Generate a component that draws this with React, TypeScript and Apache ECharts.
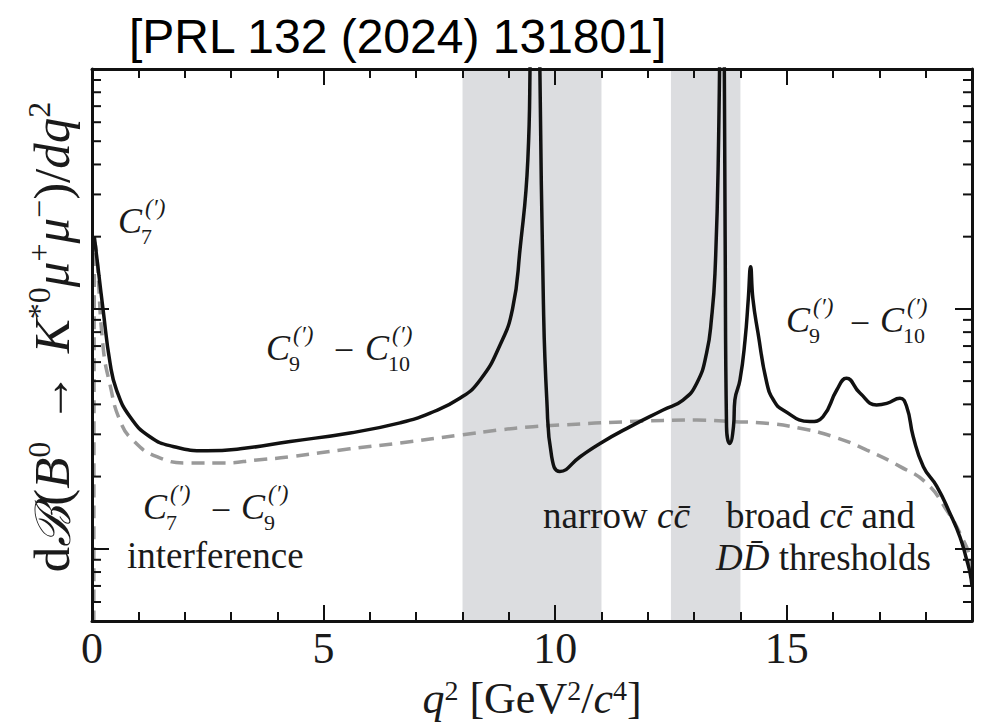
import React, { useEffect, useRef } from 'react';
import * as echarts from 'echarts';

// ---- data ----
const q2Full = [0.05, 0.15, 0.24, 0.39, 0.53, 0.82, 1.25, 1.75, 2.48, 3.2, 4.28, 5.57, 6.65, 7.3, 7.95, 8.38, 8.81, 9.08, 9.24, 9.41, 9.46, 9.56, 9.67, 9.745, 9.82, 9.925, 10.1, 10.54, 10.97, 11.62, 12.33, 12.76, 13.06, 13.27, 13.38, 13.45, 13.52, 13.57, 13.6, 13.64, 13.67, 13.7, 13.77, 13.85, 13.88, 13.99, 14.1, 14.17, 14.22, 14.27, 14.38, 14.57, 14.72, 14.92, 15.5, 15.78, 16.08, 16.29, 16.58, 16.94, 17.16, 17.445, 17.59, 17.73, 17.95, 18.24, 18.52, 18.74, 18.885, 18.96, 19.0];
const rateFull = [2.0, 1.38, 0.99, 0.595, 0.459, 0.355, 0.293, 0.267, 0.256, 0.261, 0.28, 0.304, 0.335, 0.368, 0.425, 0.505, 0.707, 1.0, 1.76, 4.18, 11, 300, 10, 1.09, 0.417, 0.242, 0.21, 0.242, 0.275, 0.323, 0.379, 0.417, 0.491, 0.655, 0.93, 1.4, 4, 30, 300, 30, 2, 0.323, 0.275, 0.323, 0.417, 0.505, 0.742, 1.1, 1.5, 1.1, 0.793, 0.491, 0.415, 0.379, 0.339, 0.355, 0.459, 0.514, 0.446, 0.398, 0.404, 0.424, 0.391, 0.294, 0.22, 0.182, 0.141, 0.112, 0.09, 0.079, 0.07];

const q2Ref = [0.04, 0.06, 0.1, 0.24, 0.39, 0.6, 0.88, 1.4, 2.12, 2.83, 3.56, 4.28, 5.57, 6.65, 7.95, 8.81, 9.52, 10.1, 11.62, 13.06, 13.84, 14.49, 15.29, 16.0, 16.73, 17.45, 18.02, 18.45, 18.74, 18.96, 19.0];
const rateRef = [0.04, 1.9, 1.71, 0.694, 0.482, 0.344, 0.284, 0.242, 0.228, 0.228, 0.2345, 0.242, 0.261, 0.276, 0.298, 0.313, 0.323, 0.328, 0.339, 0.344, 0.339, 0.3345, 0.318, 0.2935, 0.258, 0.22, 0.1875, 0.145, 0.116, 0.09, 0.074];

const charmBands = [[8, 11], [12.5, 14]];
const xTickLabels = ['0', '5', '10', '15'];
const yMinorTicks = [0.06, 0.07, 0.08, 0.09, 0.2, 0.3, 0.4, 0.5, 0.6, 0.7, 0.8, 0.9, 2, 3, 4, 5, 6, 7, 8, 9];

const X_MIN = 0;
const X_MAX = 19;
const Y_MIN = 0.05;
const Y_MAX = 10;

const SERIF = "'Liberation Serif', 'Times New Roman', 'DejaVu Serif', serif";
const TXT = '#1a1a1a';

function txt(x: number, y: number, text: string, size: number, extra: any = {}) {
  return {
    type: 'text', x, y, z: 100, silent: true,
    style: { text, fontFamily: SERIF, fontSize: size, fill: TXT, verticalAlign: 'middle', align: 'left', ...extra },
  };
}

function cTerm(x: number, yc: number, sub: string) {
  return [
    txt(x, yc, 'C', 36, { fontStyle: 'italic' }),
    txt(x + 27, yc - 14, '(\u2032)', 23, { fontStyle: 'italic' }),
    txt(x + 23, yc + 15, sub, 22),
  ];
}

const richBase = (size: number, supSize: number, lh: number) => ({
  r: { fontFamily: SERIF, fontSize: size, fill: TXT, verticalAlign: 'bottom', lineHeight: lh },
  a: { fontFamily: SERIF, fontSize: size, fill: TXT, verticalAlign: 'bottom', lineHeight: lh, padding: [0, 6, 0, 6] },
  i: { fontFamily: SERIF, fontSize: size, fontStyle: 'italic', fill: TXT, verticalAlign: 'bottom', lineHeight: lh },
  s: { fontFamily: "'DejaVu Serif', " + SERIF, fontSize: size - 2, fontStyle: 'italic', fill: TXT, verticalAlign: 'bottom', lineHeight: lh },
  sup: { fontFamily: SERIF, fontSize: supSize, fill: TXT, verticalAlign: 'top', lineHeight: 20 },
});

const Y_LABEL = '{r|d}{s|\u212C}{r|(}{i|B}{sup|0}{a| \u2192 }{i|K}{sup|*0}{i|\u03BC}{sup|+}{i|\u03BC}{sup|\u2212}{r|)/}{i|dq}{sup|2}';
const X_LABEL = '{i|q}{sup|2}{r| [GeV}{sup|2}{r|/}{i|c}{sup|4}{r|]}';

function buildOption() {
  const full = q2Full.map((q, k) => [q, rateFull[k]]);
  const ref = q2Ref.map((q, k) => [q, rateRef[k]]);

  const axisLine = { show: true, onZero: false, lineStyle: { color: '#111', width: 3 } };
  const xBase = (position: string, interval: number, len: number, main: boolean) => ({
    type: 'value', min: X_MIN, max: X_MAX, interval, position, z: 10,
    axisLine: main ? axisLine : { show: false, onZero: false },
    axisTick: { show: true, inside: true, length: len, lineStyle: { color: '#111', width: 2 } },
    axisLabel: main && position === 'bottom'
      ? {
          show: true, fontFamily: SERIF, fontSize: 44, color: TXT, margin: 5, showMaxLabel: false,
          formatter: (v: number) => (xTickLabels.includes(String(v)) ? String(v) : ''),
        }
      : { show: false },
    splitLine: { show: false },
    minorTick: { show: false },
  });
  const yBase = (position: string) => ({
    type: 'log', logBase: 10, min: Y_MIN, max: Y_MAX, position, z: 10,
    axisLine,
    axisTick: { show: true, inside: true, length: 17, lineStyle: { color: '#111', width: 2 } },
    axisLabel: { show: false },
    splitLine: { show: false },
    minorTick: { show: false },
  });

  const richText = (x: number, y: number, text: string) => ({
    type: 'text', x, y, z: 100, silent: true,
    style: {
      text, verticalAlign: 'middle', align: 'left',
      rich: { n: { fontFamily: SERIF, fontSize: 37, fill: TXT }, i: { fontFamily: SERIF, fontSize: 37, fontStyle: 'italic', fill: TXT } },
    },
  });

  const graphic: any[] = [
    {
      type: 'text', x: 129, y: 36, z: 100, silent: true,
      style: { text: '[PRL 132 (2024) 131801]', fontFamily: "'Liberation Sans', Arial, sans-serif", fontSize: 48, fill: '#000', verticalAlign: 'middle', align: 'left' },
    },
    {
      type: 'text', x: 50, y: 337, rotation: Math.PI / 2, z: 100, silent: true,
      style: { text: Y_LABEL, rich: richBase(51, 32, 55), align: 'center', verticalAlign: 'middle' },
    },
    {
      type: 'text', x: 532, y: 698, z: 100, silent: true,
      style: { text: X_LABEL, rich: richBase(44, 28, 44), align: 'center', verticalAlign: 'middle' },
    },
    ...cTerm(118, 221, '7'),
    ...cTerm(266, 348, '9'),
    txt(344, 350, '\u2212', 36, { align: 'center' }),
    ...cTerm(365, 348, '10'),
    ...cTerm(143, 507, '7'),
    txt(221, 510, '\u2212', 36, { align: 'center' }),
    ...cTerm(241, 507, '9'),
    ...cTerm(786, 320, '9'),
    txt(860, 323, '\u2212', 36, { align: 'center' }),
    ...cTerm(880, 320, '10'),
    txt(127, 555, 'interference', 37),
    richText(543, 515, '{n|narrow }{i|cc\u0304}'),
    richText(726, 515, '{n|broad }{i|cc\u0304}{n| and}'),
    richText(716, 557, '{i|DD\u0304}{n| thresholds}'),
  ];

  return {
    animation: false,
    backgroundColor: '#ffffff',
    grid: { left: 92, right: 12, top: 69, bottom: 101, show: false },
    xAxis: [
      xBase('bottom', 5, 16, true),
      xBase('bottom', 1, 9, false),
      xBase('top', 5, 16, true),
      xBase('top', 1, 9, false),
    ],
    yAxis: [yBase('left'), yBase('right')],
    graphic,
    series: [
      {
        type: 'custom', name: 'charm bands', xAxisIndex: 0, yAxisIndex: 0, z: 1, silent: true,
        data: charmBands.map(([a, b]) => [a, b, Y_MIN, Y_MAX]),
        encode: { x: [0, 1], y: [2, 3] },
        renderItem: (_p: any, api: any) => {
          const p0 = api.coord([api.value(0), api.value(3)]);
          const p1 = api.coord([api.value(1), api.value(2)]);
          return {
            type: 'rect',
            shape: { x: p0[0], y: p0[1], width: p1[0] - p0[0], height: p1[1] - p0[1] },
            style: { fill: '#dcdde0' },
          };
        },
      },
      {
        type: 'line', name: 'no charm', xAxisIndex: 0, yAxisIndex: 0, z: 3,
        data: ref, showSymbol: false, smooth: 0.5,
        lineStyle: { color: '#9a9a9a', width: 3.5, type: [13, 8] },
      },
      {
        type: 'line', name: 'full', xAxisIndex: 0, yAxisIndex: 0, z: 4,
        data: full, showSymbol: false, smooth: 0.5,
        lineStyle: { color: '#111', width: 3.5 },
      },
      {
        type: 'custom', name: 'minor ticks', xAxisIndex: 0, yAxisIndex: 0, z: 10, silent: true, clip: false,
        data: yMinorTicks.map((v) => [X_MIN, v]),
        encode: { x: 0, y: 1 },
        renderItem: (_p: any, api: any) => {
          const v = api.value(1);
          const l = api.coord([X_MIN, v]);
          const r = api.coord([X_MAX, v]);
          return {
            type: 'group',
            children: [
              { type: 'line', shape: { x1: l[0], y1: l[1], x2: l[0] + 9, y2: l[1] }, style: { stroke: '#111', lineWidth: 2 } },
              { type: 'line', shape: { x1: r[0] - 9, y1: r[1], x2: r[0], y2: r[1] }, style: { stroke: '#111', lineWidth: 2 } },
            ],
          };
        },
      },
    ],
  };
}

export default function App() {
  const ref = useRef<HTMLDivElement>(null);
  useEffect(() => {
    if (!ref.current) return;
    const chart = echarts.init(ref.current, null, { renderer: 'svg' });
    chart.setOption(buildOption() as any);
    return () => chart.dispose();
  }, []);
  return <div ref={ref} style={{ position: 'fixed', left: 0, top: 0, width: 984, height: 722 }} />;
}
